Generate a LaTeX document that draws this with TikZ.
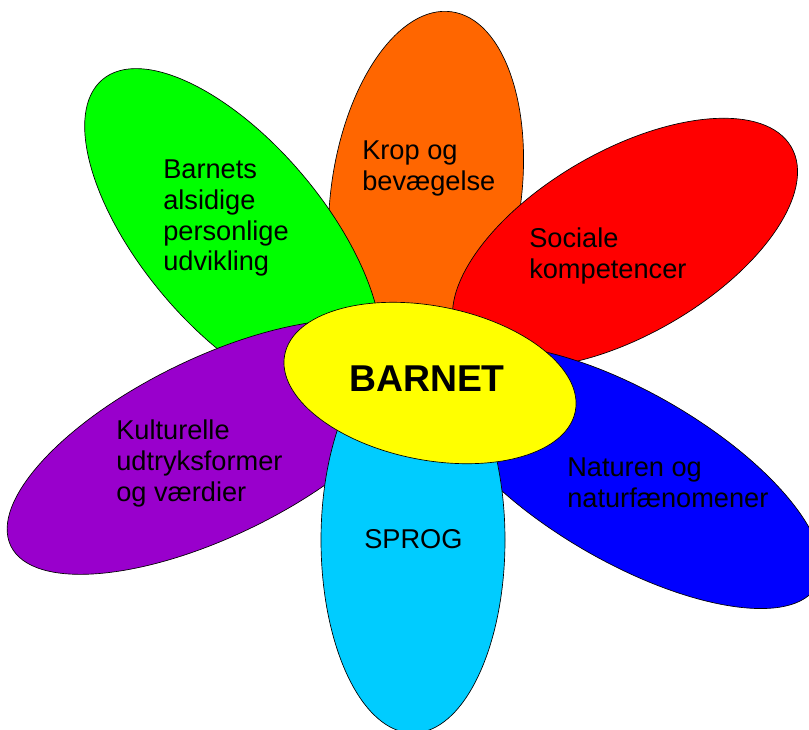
\documentclass[tikz,border=0pt]{standalone}
\usepackage{fontspec}
\setmainfont{Liberation Sans}
\definecolor{cOrange}{HTML}{FF6600}
\definecolor{cRed}{HTML}{FF0000}
\definecolor{cGreen}{HTML}{00FF00}
\definecolor{cBlue}{HTML}{0000FF}
\definecolor{cPurple}{HTML}{9900CC}
\definecolor{cCyan}{HTML}{00CCFF}
\definecolor{cYellow}{HTML}{FFFF00}
\tikzset{
  petal/.style={draw=black, line width=0.5pt},
  petaltext/.style={anchor=north west, inner sep=0pt, align=left,
    font=\fontsize{20.4pt}{23pt}\selectfont},
  centertext/.style={anchor=north west, inner sep=0pt,
    font=\fontsize{28pt}{30pt}\selectfont\bfseries}
}
\begin{document}
\begin{tikzpicture}[x=0.75pt,y=-0.75pt]
\useasboundingbox (0,0) rectangle (809,729);
\begin{scope}
\clip (0,0) rectangle (809,729);
% orange
\draw[petal, fill=cOrange, rotate around={-8:(426,195)}] (426,195) ellipse [x radius=95, y radius=185];
% red
\draw[petal, fill=cRed, rotate around={30:(625,243)}] (625,243) ellipse [x radius=192, y radius=92];
% green
\draw[petal, fill=cGreen, rotate around={-50:(233,235)}] (233,235) ellipse [x radius=203, y radius=92];
% blue
\draw[petal, fill=cBlue, rotate around={-30:(628,477)}] (628,477) ellipse [x radius=218, y radius=85];
% purple
\draw[petal, fill=cPurple, rotate around={26:(214,447)}] (214,447) ellipse [x radius=226, y radius=89];
% cyan
\draw[petal, fill=cCyan] (413,540) ellipse [x radius=92, y radius=193];
% yellow
\draw[petal, fill=cYellow, rotate around={-11:(430,383)}] (430,383) ellipse [x radius=148, y radius=77];
\end{scope}
\node[petaltext] (krop) at (362,141) {Krop og\\bevægelse};
\node[petaltext] (barnets) at (163,160) {Barnets\\alsidige\\personlige\\udvikling};
\node[petaltext] (sociale) at (529,228) {Sociale\\kompetencer};
\node[petaltext] (kultur) at (116,420) {Kulturelle\\udtryksformer\\og værdier};
\node[petaltext] (natur) at (567,458) {Naturen og\\naturfænomener};
\node[petaltext] (sprog) at (364,529) {SPROG};
\node[centertext] (barnet) at (349,366) {BARNET};
\end{tikzpicture}
\end{document}
